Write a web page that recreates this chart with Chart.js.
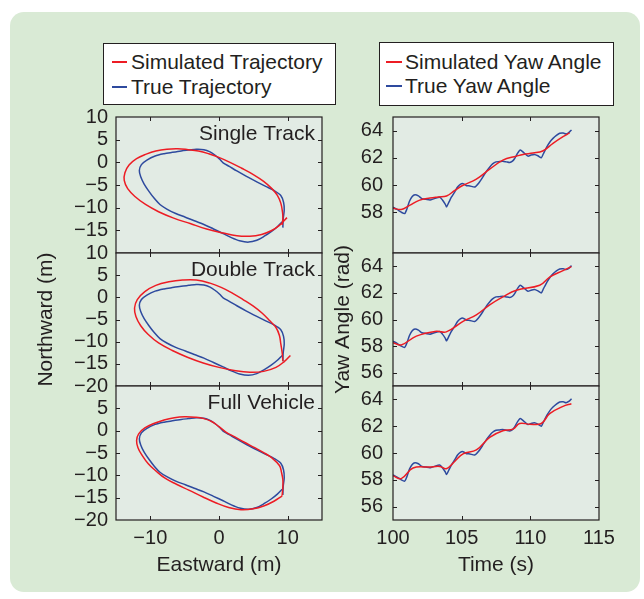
<!DOCTYPE html>
<html>
<head>
<meta charset="utf-8">
<script src="https://cdn.jsdelivr.net/npm/chart.js@4.4.1/dist/chart.umd.min.js"></script>
<style>
  html, body { margin: 0; padding: 0; background: #fff; }
  #fig { position: relative; width: 644px; height: 599px; overflow: hidden;
         font-family: "Liberation Sans", Arial, sans-serif; color: #231f20; }
  #panel { position: absolute; left: 10px; top: 12px; width: 630px; height: 580px;
           background: #d9ead5; border-radius: 14px; }
  canvas { position: absolute; }
  .legend { position: absolute; background: #fff; border: 1px solid #231f20;
            box-sizing: border-box; font-size: 21px; }
  .legend .row { position: absolute; white-space: nowrap; line-height: 24px; }
  .legend .sw { position: absolute; height: 2px; }
</style>
</head>
<body>
<div id="fig">
  <div id="panel"></div>
</div>
<script>
// ---- labels ----
const trajLegend = ["Simulated Trajectory", "True Trajectory"];
const yawLegend = ["Simulated Yaw Angle", "True Yaw Angle"];
const panelNames = ["Single Track", "Double Track", "Full Vehicle"];

// ---- ticks ----
const eastTicks = [-10, 0, 10];
const timeTicks = [100, 105, 110, 115];
const northTicks = [
  [-15, -10, -5, 0, 5, 10],
  [-20, -15, -10, -5, 0, 5, 10],
  [-20, -15, -10, -5, 0, 5]
];
const yawTicks = [
  [58, 60, 62, 64],
  [56, 58, 60, 62, 64],
  [56, 58, 60, 62, 64]
];

// ---- true trajectory (m) ----
const trueEast = [9.3, 9.35, 9.5, 9.4, 9.0, 8.0, 6.8, 5.5, 4.0, 2.6, 1.5, 0.6, 0.1, -0.6, -1.3,
  -2.2, -3.3, -4.4, -5.5, -6.8, -8.0, -9.3, -10.5, -11.3, -11.6, -11.4, -10.9, -10.2, -9.4,
  -8.6, -7.6, -6.3, -4.9, -3.6, -2.2, -0.8, 0.6, 1.8, 3.0, 4.3, 5.5, 6.6, 7.6, 8.5, 9.2];
const trueNorth = [-14.4, -12.5, -10.5, -8.8, -7.3, -6.2, -5.3, -4.3, -3.1, -1.9, -0.9, -0.1, 0.7,
  1.6, 2.3, 2.8, 2.9, 2.7, 2.5, 2.2, 1.9, 1.4, 0.5, -0.5, -1.8, -3.2, -4.8, -6.4, -8.0, -9.3,
  -10.3, -11.3, -12.1, -12.9, -13.7, -14.7, -15.7, -16.6, -17.3, -17.6, -17.2, -16.3, -15.3,
  -14.2, -13.1];

// ---- simulated trajectories (m) ----
const singleEast = [9.2, 9.3, 9.25, 9.0, 8.5, 7.7, 6.5, 5.0, 3.3, 1.6, -0.2, -1.5, -3.0, -4.5,
  -6.0, -7.6, -9.2, -10.6, -12.0, -13.1, -13.7, -13.8, -13.3, -12.2, -10.7, -8.8, -6.6, -4.2,
  -1.8, 0.6, 2.6, 4.5, 6.2, 7.6, 8.8, 9.9];
const singleNorth = [-13.8, -12.3, -11.0, -9.0, -7.3, -5.8, -4.2, -2.7, -1.3, 0.0, 1.2, 1.9, 2.5,
  2.8, 3.0, 2.9, 2.5, 1.8, 0.8, -0.6, -2.3, -4.0, -5.8, -7.6, -9.3, -10.9, -12.3, -13.5, -14.7,
  -15.6, -16.2, -16.3, -15.9, -15.1, -13.9, -12.2];

const doubleEast = [9.3, 9.2, 9.0, 8.8, 8.3, 7.4, 6.3, 5.0, 3.5, 2.0, 0.4, -1.3, -3.3, -5.3,
  -7.3, -9.2, -10.8, -11.9, -12.3, -12.1, -11.4, -10.3, -8.8, -6.8, -4.6, -2.3, 0.0, 2.2, 4.5,
  6.5, 8.3, 9.5, 10.4];
const doubleNorth = [-14.4, -12.5, -10.5, -8.6, -6.8, -5.3, -3.6, -2.0, -0.5, 0.9, 2.2, 3.2, 3.9,
  3.9, 3.5, 2.7, 1.3, -0.5, -2.4, -4.3, -6.4, -8.4, -10.3, -12.0, -13.5, -14.8, -15.8, -16.5,
  -16.9, -16.7, -15.8, -14.5, -13.1];

const fullEast = [9.2, 9.3, 9.3, 9.1, 8.8, 7.7, 6.5, 5.2, 3.7, 2.3, 1.0, 0.0, -1.0, -2.2, -3.5,
  -5.0, -6.5, -8.0, -9.5, -10.8, -11.7, -12.0, -11.8, -11.2, -10.3, -9.2, -7.8, -6.2, -4.4,
  -2.4, -0.4, 1.4, 3.2, 5.0, 6.6, 8.0, 9.2];
const fullNorth = [-14.5, -12.5, -11.0, -9.3, -7.8, -6.1, -4.9, -3.8, -2.6, -1.4, -0.3, 0.9, 2.0,
  2.7, 3.0, 3.1, 2.9, 2.4, 1.6, 0.6, -0.7, -2.2, -3.8, -5.5, -7.4, -9.0, -10.7, -12.0, -13.3,
  -14.8, -16.2, -17.2, -17.7, -17.5, -16.8, -15.8, -14.6];

// ---- true yaw angle ----
const trueTime = [100.0, 100.3, 100.6, 100.85, 101.0, 101.2, 101.4, 101.6, 101.85, 102.1, 102.4,
  102.7, 103.0, 103.4, 103.6, 103.8, 103.9, 104.1, 104.25, 104.5, 104.7, 104.9, 105.1, 105.35,
  105.6, 105.95, 106.25, 106.55, 106.8, 107.05, 107.25, 107.5, 107.75, 108.0, 108.25, 108.5,
  108.7, 108.86, 109.05, 109.27, 109.5, 109.83, 110.05, 110.3, 110.55, 110.8, 110.95, 111.2,
  111.45, 111.65, 111.9, 112.14, 112.4, 112.6, 112.8, 113.0];
const trueYaw = [58.37, 58.2, 58.0, 57.9, 58.2, 58.8, 59.15, 59.28, 59.2, 59.0, 58.95, 58.9, 59.0,
  59.1, 58.9, 58.6, 58.4, 58.8, 59.1, 59.5, 59.85, 60.05, 60.1, 59.95, 59.93, 59.85, 60.15, 60.6,
  61.0, 61.33, 61.55, 61.7, 61.72, 61.75, 61.7, 61.65, 61.75, 61.95, 62.3, 62.57, 62.4, 62.12,
  62.2, 62.25, 62.15, 62.0, 62.3, 62.8, 63.2, 63.43, 63.65, 63.8, 63.82, 63.75, 63.85, 64.05];

// ---- simulated yaw angle ----
const singleTime = [100.0, 100.6, 101.2, 101.9, 102.7, 103.3, 103.9, 104.5, 105.1, 106.07, 107.04,
  108.0, 108.98, 109.47, 110.2, 110.9, 111.65, 112.38, 112.86];
const singleYaw = [58.3, 58.2, 58.5, 58.87, 59.04, 59.12, 59.19, 59.6, 59.98, 60.43, 61.16, 61.83,
  62.12, 62.25, 62.35, 62.5, 63.06, 63.55, 63.83];
const doubleTime = [100.0, 100.6, 101.7, 103.16, 103.88, 105.1, 106.07, 107.04, 108.0, 108.98,
  110.68, 111.41, 112.38, 112.99];
const doubleYaw = [58.26, 58.09, 58.75, 59.12, 59.07, 59.86, 60.35, 61.1, 61.7, 62.2, 62.57,
  63.19, 63.68, 63.98];
const fullTime = [100.0, 100.6, 101.46, 102.67, 103.4, 103.88, 104.49, 105.1, 106.07, 107.04,
  108.0, 108.74, 109.22, 109.95, 110.8, 111.41, 112.38, 112.99];
const fullYaw = [58.31, 58.09, 58.88, 58.95, 59.0, 58.83, 59.37, 59.94, 60.23, 61.17, 61.66,
  61.78, 62.2, 62.15, 62.2, 62.94, 63.48, 63.68];

const RED = "#ed1c24";
const BLUE = "#2e4a9e";
const INK = "#231f20";

Chart.defaults.font.family = '"Liberation Sans", Arial, sans-serif';
Chart.defaults.color = INK;

const fmt = v => (v < 0 ? "\u2212" + Math.abs(v) : String(v));
const zip = (xs, ys) => xs.map((x, i) => ({ x: x, y: ys[i] }));

// panel background, box, inward tick marks and panel name
const framePlugin = {
  id: "frame",
  beforeDraw(chart) {
    const { ctx, chartArea: a } = chart;
    ctx.save();
    ctx.fillStyle = "#e2ebe4";
    ctx.fillRect(a.left, a.top, a.right - a.left, a.bottom - a.top);
    ctx.restore();
  },
  afterDraw(chart, args, opts) {
    const { ctx, chartArea: a, scales } = chart;
    ctx.save();
    ctx.strokeStyle = INK;
    ctx.lineWidth = 1;
    ctx.beginPath();
    opts.xTicks.forEach(v => {
      const px = Math.round(scales.x.getPixelForValue(v)) + 0.5;
      if (px <= a.left + 1 || px >= a.right - 1) return;
      ctx.moveTo(px, a.bottom); ctx.lineTo(px, a.bottom - 4);
      ctx.moveTo(px, a.top); ctx.lineTo(px, a.top + 4);
    });
    opts.yTicks.forEach(v => {
      const py = Math.round(scales.y.getPixelForValue(v)) + 0.5;
      if (py <= a.top + 1 || py >= a.bottom - 1) return;
      ctx.moveTo(a.left, py); ctx.lineTo(a.left + 4, py);
      ctx.moveTo(a.right, py); ctx.lineTo(a.right - 4, py);
    });
    ctx.stroke();
    ctx.lineWidth = 1.2;
    ctx.strokeRect(a.left, a.top, a.right - a.left, a.bottom - a.top);
    if (opts.name) {
      ctx.fillStyle = INK;
      ctx.font = '21px "Liberation Sans", Arial, sans-serif';
      ctx.textAlign = "right";
      ctx.textBaseline = "middle";
      ctx.fillText(opts.name, a.right - 7, a.top + 17);
    }
    ctx.restore();
  }
};

function makePanel(p) {
  const cv = document.createElement("canvas");
  const padT = 26;
  const padB = p.bottom ? 0 : 26;
  const xH = p.bottom ? 60 : 0;
  const w = p.yW + 206 + p.padR;
  const h = padT + p.areaH + padB + xH;
  cv.width = w;
  cv.height = h;
  cv.style.left = (p.areaLeft - p.yW) + "px";
  cv.style.top = (p.areaTop - padT) + "px";
  document.getElementById("fig").appendChild(cv);

  new Chart(cv, {
    type: "scatter",
    data: {
      datasets: p.series.map(s => ({
        label: s.label,
        data: zip(s.xs, s.ys),
        showLine: true,
        borderColor: s.color,
        backgroundColor: s.color,
        borderWidth: 1.5,
        pointRadius: 0,
        tension: s.tension
      }))
    },
    options: {
      responsive: false,
      animation: false,
      devicePixelRatio: 1,
      layout: { padding: { top: padT, bottom: padB, left: 0, right: p.padR } },
      plugins: {
        legend: { display: false },
        tooltip: { enabled: false },
        frame: { xTicks: p.xTicks, yTicks: p.yTicks, name: p.name }
      },
      scales: {
        x: {
          type: "linear",
          min: p.xMin, max: p.xMax,
          display: !!p.bottom,
          afterBuildTicks: s => { s.ticks = p.xTicks.map(v => ({ value: v })); },
          afterFit: s => { s.height = xH; },
          grid: { display: false, drawTicks: false },
          border: { display: false },
          ticks: { padding: 6, autoSkip: false, maxRotation: 0, font: { size: 20 }, callback: fmt },
          title: { display: !!p.xTitle, text: p.xTitle, font: { size: 21 }, padding: { top: 0, bottom: 2 } }
        },
        y: {
          type: "linear",
          min: p.yMin, max: p.yMax,
          afterBuildTicks: s => { s.ticks = p.yTicks.map(v => ({ value: v })); },
          afterFit: s => { s.width = p.yW; },
          grid: { display: false, drawTicks: false },
          border: { display: false },
          ticks: { padding: p.tickPad, autoSkip: false, font: { size: 20 }, callback: fmt },
          title: { display: !!p.yTitle, text: p.yTitle, font: { size: 21 }, padding: { top: p.titlePad, bottom: 0 } }
        }
      }
    },
    plugins: [framePlugin]
  });
}

const rowTop = [117, 253, 386];
const rowH = [136, 133, 134];
const simTraj = [[singleEast, singleNorth], [doubleEast, doubleNorth], [fullEast, fullNorth]];
const simYaw = [[singleTime, singleYaw], [doubleTime, doubleYaw], [fullTime, fullYaw]];

for (let r = 0; r < 3; r++) {
  // left column: trajectories
  makePanel({
    areaLeft: 116, areaTop: rowTop[r], areaH: rowH[r], yW: 96, padR: 12, tickPad: 8,
    bottom: r === 2, xMin: -15, xMax: 15, yMin: -20, yMax: 10,
    xTicks: eastTicks, yTicks: northTicks[r], name: panelNames[r],
    xTitle: r === 2 ? "Eastward (m)" : "", yTitle: r === 1 ? "Northward (m)" : "", titlePad: 14,
    series: [
      { label: trajLegend[0], color: RED, xs: simTraj[r][0], ys: simTraj[r][1], tension: 0.4 },
      { label: trajLegend[1], color: BLUE, xs: trueEast, ys: trueNorth, tension: 0.3 }
    ]
  });
  // right column: yaw angle
  makePanel({
    areaLeft: 393, areaTop: rowTop[r], areaH: rowH[r], yW: 70, padR: 26, tickPad: 10,
    bottom: r === 2, xMin: 100, xMax: 115, yMin: 55, yMax: 65,
    xTicks: timeTicks, yTicks: yawTicks[r], name: "",
    xTitle: r === 2 ? "Time (s)" : "", yTitle: r === 1 ? "Yaw Angle (rad)" : "", titlePad: 8,
    series: [
      { label: yawLegend[0], color: RED, xs: simYaw[r][0], ys: simYaw[r][1], tension: 0.4 },
      { label: yawLegend[1], color: BLUE, xs: trueTime, ys: trueYaw, tension: 0.2 }
    ]
  });
}

// legends
function makeLegend(labels, box, swLeft, swW, textLeft, rows) {
  const d = document.createElement("div");
  d.className = "legend";
  d.style.left = box[0] + "px";
  d.style.top = box[1] + "px";
  d.style.width = box[2] + "px";
  d.style.height = box[3] + "px";
  [RED, BLUE].forEach((c, i) => {
    const sw = document.createElement("div");
    sw.className = "sw";
    sw.style.background = c;
    sw.style.left = swLeft + "px";
    sw.style.width = swW + "px";
    sw.style.top = (rows[i] - 1) + "px";
    d.appendChild(sw);
    const t = document.createElement("div");
    t.className = "row";
    t.textContent = labels[i];
    t.style.left = textLeft + "px";
    t.style.top = (rows[i] - 12) + "px";
    d.appendChild(t);
  });
  document.getElementById("fig").appendChild(d);
}
makeLegend(trajLegend, [103, 43, 233, 62], 8, 15, 27, [18, 43]);
makeLegend(yawLegend, [379, 42, 235, 64], 6, 16, 25, [19, 43]);
</script>
</body>
</html>
